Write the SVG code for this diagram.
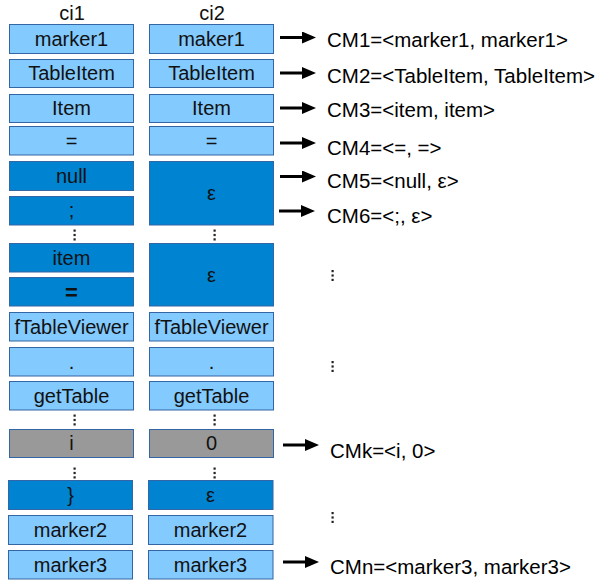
<svg xmlns="http://www.w3.org/2000/svg" width="597" height="583" viewBox="0 0 597 583">
<style>
text{font-family:"Liberation Sans",Arial,sans-serif;font-size:20px;fill:#111;}
.c{text-anchor:middle;}
.cm{font-size:20.5px;fill:#000;}
.lb{fill:#83caff;stroke:#3465a4;stroke-width:1;}
.db{fill:#0084d1;stroke:#3465a4;stroke-width:1;}
.gr{fill:#999999;stroke:#3465a4;stroke-width:1;}
.arr{stroke:#000;stroke-width:3;fill:none;marker-end:url(#ah);}
.dot{fill:#222;}
</style>
<defs>
<marker id="ah" markerUnits="userSpaceOnUse" markerWidth="15" markerHeight="13" refX="3" refY="6" orient="auto">
<path d="M0,0 L14,6 L0,12 z" fill="#000"/>
</marker>
<g id="vd"><rect class="dot" x="-1" y="0" width="2.2" height="2.2"/><rect class="dot" x="-1" y="4.4" width="2.2" height="2.2"/><rect class="dot" x="-1" y="8.8" width="2.2" height="2.2"/></g>
</defs>
<g id="headers">
<text class="c" x="72" y="20">ci1</text>
<text class="c" x="212" y="20">ci2</text>
</g>
<g id="n1a"><rect class="lb" x="9.5" y="24.5" width="124" height="29"/><text class="c" x="71.5" y="46">marker1</text></g>
<g id="n1b"><rect class="lb" x="149.5" y="24.5" width="124" height="29"/><text class="c" x="211.5" y="46">maker1</text></g>
<g id="n2a"><rect class="lb" x="9.5" y="59.5" width="124" height="28"/><text class="c" x="71.5" y="80">TableItem</text></g>
<g id="n2b"><rect class="lb" x="149.5" y="59.5" width="124" height="28"/><text class="c" x="211.5" y="80">TableItem</text></g>
<g id="n3a"><rect class="lb" x="9.5" y="94.5" width="124" height="28"/><text class="c" x="71.5" y="115">Item</text></g>
<g id="n3b"><rect class="lb" x="149.5" y="94.5" width="124" height="28"/><text class="c" x="211.5" y="115">Item</text></g>
<g id="n4a"><rect class="lb" x="9.5" y="126.5" width="124" height="28.5"/><text class="c" x="71.5" y="148">=</text></g>
<g id="n4b"><rect class="lb" x="149.5" y="126.5" width="124" height="28.5"/><text class="c" x="211.5" y="148">=</text></g>
<g id="n5a"><rect class="db" x="9.5" y="161.5" width="124" height="29"/><text class="c" x="71.5" y="183">null</text></g>
<g id="n6a"><rect class="db" x="9.5" y="196.5" width="124" height="28.5"/><text class="c" x="71.5" y="217">;</text></g>
<g id="n56b"><rect class="db" x="149.5" y="161.5" width="124" height="63.5"/><text class="c" x="211.5" y="200">ε</text></g>
<g id="d1"><use href="#vd" x="74.5" y="229.5"/><use href="#vd" x="214.5" y="229.5"/></g>
<g id="n7a"><rect class="db" x="9.5" y="243.5" width="124" height="28.5"/><text class="c" x="71.5" y="265">item</text></g>
<g id="n8a"><rect class="db" x="9.5" y="277.5" width="124" height="28.5"/><text class="c" x="71.5" y="300" style="font-weight:bold;font-size:22px">=</text></g>
<g id="n78b"><rect class="db" x="149.5" y="243.5" width="124" height="62.5"/><text class="c" x="211.5" y="282">ε</text></g>
<g id="n9a"><rect class="lb" x="9.5" y="312.5" width="124" height="28.5"/><text class="c" x="71.5" y="334">fTableViewer</text></g>
<g id="n9b"><rect class="lb" x="149.5" y="312.5" width="124" height="28.5"/><text class="c" x="211.5" y="334">fTableViewer</text></g>
<g id="n10a"><rect class="lb" x="9.5" y="347.5" width="124" height="28.5"/><text class="c" x="71.5" y="369">.</text></g>
<g id="n10b"><rect class="lb" x="149.5" y="347.5" width="124" height="28.5"/><text class="c" x="211.5" y="369">.</text></g>
<g id="n11a"><rect class="lb" x="9.5" y="381.5" width="124" height="28.5"/><text class="c" x="71.5" y="403">getTable</text></g>
<g id="n11b"><rect class="lb" x="149.5" y="381.5" width="124" height="28.5"/><text class="c" x="211.5" y="403">getTable</text></g>
<g id="d2"><use href="#vd" x="74.5" y="414.5"/><use href="#vd" x="214.5" y="414.5"/></g>
<g id="n12a"><rect class="gr" x="9.5" y="429.5" width="124" height="28"/><text class="c" x="71.5" y="450">i</text></g>
<g id="n12b"><rect class="gr" x="149.5" y="429.5" width="124" height="28"/><text class="c" x="211.5" y="450">0</text></g>
<g id="d3"><use href="#vd" x="74.5" y="467.5"/><use href="#vd" x="214.5" y="467.5"/></g>
<g id="n13a"><rect class="db" x="8.5" y="480.5" width="124" height="29"/><text class="c" x="70.5" y="502">}</text></g>
<g id="n13b"><rect class="db" x="148.5" y="480.5" width="124.5" height="29"/><text class="c" x="210.5" y="502">ε</text></g>
<g id="n14a"><rect class="lb" x="8.5" y="515.5" width="124" height="29"/><text class="c" x="70.5" y="537">marker2</text></g>
<g id="n14b"><rect class="lb" x="148.5" y="515.5" width="124.5" height="29"/><text class="c" x="210.5" y="537">marker2</text></g>
<g id="n15a"><rect class="lb" x="8.5" y="550.5" width="124" height="28.5"/><text class="c" x="70.5" y="572">marker3</text></g>
<g id="n15b"><rect class="lb" x="148.5" y="550.5" width="124.5" height="28.5"/><text class="c" x="210.5" y="572">marker3</text></g>
<g id="d4"><use href="#vd" x="332.5" y="270"/><use href="#vd" x="332.5" y="361"/><use href="#vd" x="332.5" y="512"/></g>
<g id="connectors">
<line class="arr" x1="280" y1="37.5" x2="305" y2="37.5"/>
<line class="arr" x1="280" y1="73" x2="305" y2="73"/>
<line class="arr" x1="280" y1="108" x2="305" y2="108"/>
<line class="arr" x1="280" y1="143" x2="305" y2="143"/>
<line class="arr" x1="280" y1="176.5" x2="305" y2="176.5"/>
<line class="arr" x1="279" y1="211" x2="304" y2="211"/>
<line class="arr" x1="283" y1="445" x2="308" y2="445"/>
<line class="arr" x1="283" y1="562" x2="308" y2="562"/>
</g>
<g id="labels">
<text class="cm" x="327" y="47">CM1=&lt;marker1, marker1&gt;</text>
<text class="cm" x="327" y="83">CM2=&lt;TableItem, TableItem&gt;</text>
<text class="cm" x="327" y="117">CM3=&lt;item, item&gt;</text>
<text class="cm" x="327" y="155">CM4=&lt;=, =&gt;</text>
<text class="cm" x="327" y="188">CM5=&lt;null, ε&gt;</text>
<text class="cm" x="327" y="223">CM6=&lt;;, ε&gt;</text>
<text class="cm" x="330" y="458">CMk=&lt;i, 0&gt;</text>
<text class="cm" x="330" y="574">CMn=&lt;marker3, marker3&gt;</text>
</g>
</svg>
